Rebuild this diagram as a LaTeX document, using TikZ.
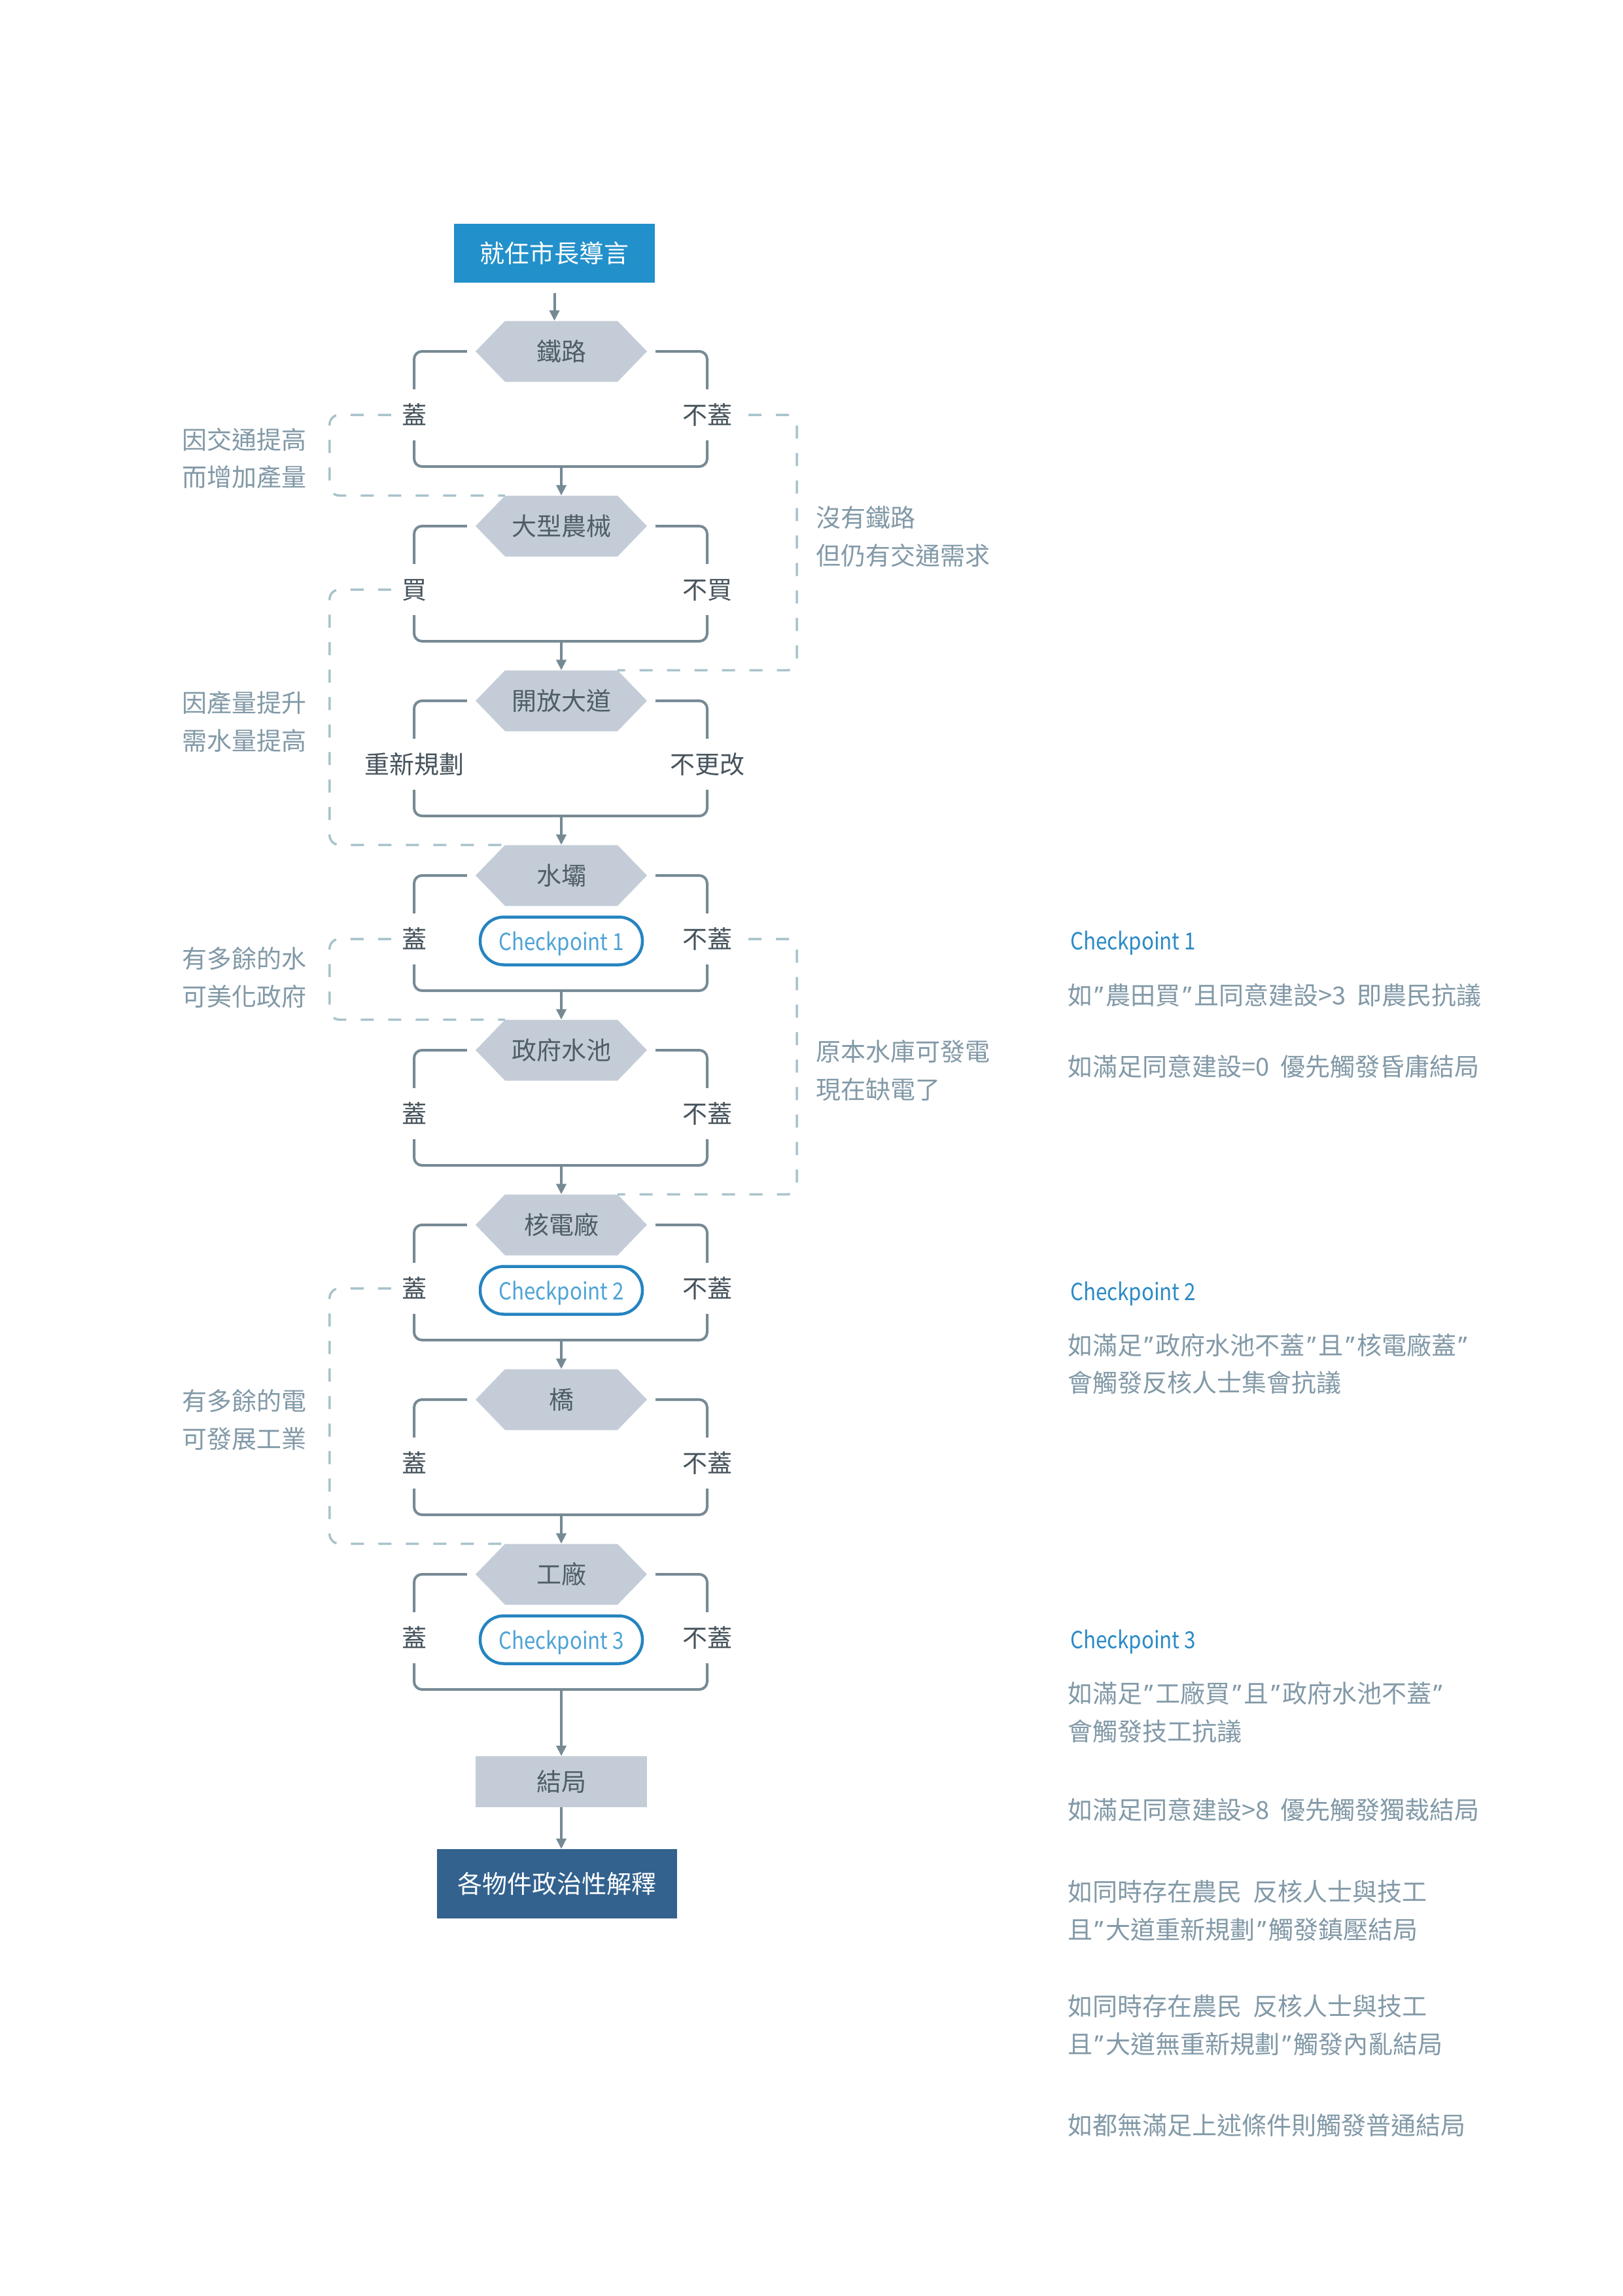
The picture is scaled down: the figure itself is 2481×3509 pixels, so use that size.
\documentclass[tikz,border=0pt]{standalone}
\usepackage{fontspec}
\setmainfont{Noto Sans CJK TC}
\newfontfamily\qfont{Noto Sans}
\newfontfamily\cpfont[FakeStretch=0.87]{Noto Sans CJK TC}
\usetikzlibrary{arrows.meta,calc}
\definecolor{startblue}{HTML}{2290CA}
\definecolor{finalblue}{HTML}{33628F}
\definecolor{hexfill}{HTML}{C4CDD7}
\definecolor{linecol}{HTML}{768A94}
\definecolor{labcol}{HTML}{46535C}
\definecolor{hextext}{HTML}{4F5D67}
\definecolor{notecol}{HTML}{8299A7}
\definecolor{dashcol}{HTML}{A8C3CB}
\definecolor{cpline}{HTML}{2584C0}
\definecolor{cptext}{HTML}{4FA3D6}
\definecolor{cpheadcol}{HTML}{2B8AC6}
\newcommand\myfs{\fontsize{38pt}{46pt}\selectfont}
\newcommand\mycpfs{\cpfont\fontsize{36pt}{44pt}\selectfont}
\newcommand\qq{\kern3.5pt{\qfont ”}\kern3.5pt}
\begin{document}
\begin{tikzpicture}[x=1pt,y=-1pt,
  every node/.style={font=\myfs, inner sep=0pt, text height=29pt, text depth=0pt},
  hexnode/.style={minimum width=262pt, minimum height=93pt, text=hextext,
    path picture={\fill[hexfill] (path picture bounding box.west)
      -- ([xshift=45pt]path picture bounding box.north west)
      -- ([xshift=-45pt]path picture bounding box.north east)
      -- (path picture bounding box.east)
      -- ([xshift=-45pt]path picture bounding box.south east)
      -- ([xshift=45pt]path picture bounding box.south west) -- cycle;}},
  labnode/.style={minimum height=78pt, text=labcol},
  bracket/.style={draw=linecol, line width=4pt, rounded corners=12pt},
  flow/.style={draw=linecol, line width=4pt, -{Triangle[length=16pt,width=15pt]}},
  dashline/.style={draw=dashcol, line width=3.5pt, dash pattern=on 20pt off 22pt, rounded corners=15pt},
  cpnode/.style={draw=cpline, line width=4.5pt, rounded corners=36pt, minimum width=248pt, minimum height=73pt, text=cptext, fill=white, font=\mycpfs},
  note/.style={text=notecol, anchor=west},
  cphead/.style={text=cpheadcol, anchor=west, font=\mycpfs},
  startbox/.style={fill=startblue, text=white, minimum width=307pt, minimum height=90pt},
  endbox/.style={fill=hexfill, text=hextext, minimum width=262pt, minimum height=78pt},
  finalbox/.style={fill=finalblue, text=white, minimum width=367pt, minimum height=106pt}
]
\fill[white] (0,0) rectangle (2481,3509);
\useasboundingbox (0,0) rectangle (2481,3509);

% start
\node[startbox] (start) at (847.5,387) {就任市長導言};

% hexagons
\foreach \k/\y/\t in {1/537/鐵路,2/804/大型農械,3/1071/開放大道,4/1338/水壩,5/1605/政府水池,6/1872/核電廠,7/2139/橋,8/2406/工廠}{
  \node[hexnode] (h\k) at (858,\y) {\t};
}

% labels and brackets
\foreach \k/\y/\a/\b in {1/537/蓋/不蓋,2/804/買/不買,3/1071/重新規劃/不更改,4/1338/蓋/不蓋,5/1605/蓋/不蓋,6/1872/蓋/不蓋,7/2139/蓋/不蓋,8/2406/蓋/不蓋}{
  \node[labnode] (l\k) at (633,{\y+97}) {\a};
  \node[labnode] (r\k) at (1081,{\y+97}) {\b};
  \coordinate (b\k) at (858,{\y+176});
  \draw[bracket] ([xshift=-13pt]h\k.west) -| (l\k.north);
  \draw[bracket] ([xshift=13pt]h\k.east) -| (r\k.north);
  \draw[bracket] (l\k.south) |- (b\k) -| (r\k.south);
}

% checkpoints
\node[cpnode] (cp1) at (858,1438) {Checkpoint 1};
\node[cpnode] (cp2) at (858,1972) {Checkpoint 2};
\node[cpnode] (cp3) at (858,2506) {Checkpoint 3};

% end boxes
\node[endbox] (end) at (858,2723) {結局};
\node[finalbox] (final) at (851.5,2879) {各物件政治性解釋};

% flow arrows
\draw[flow] ([yshift=-16pt]start.south) -- (start.south |- h1.north);
\foreach \k/\n in {1/2,2/3,3/4,4/5,5/6,6/7,7/8}{
  \draw[flow] (b\k) -- (h\n.north);
}
\draw[flow] (b8) -- (end.north);
\draw[flow] (end.south) -- (end.south |- final.north);

% dashed annotations
\draw[dashline] ([xshift=-16pt]l1.west) -| ([xshift=-223pt]h2.north west) -- ([xshift=45pt]h2.north west);
\draw[dashline] ([xshift=25pt]r1.east) -| ([xshift=229pt]h3.north east) -- ([xshift=-45pt]h3.north east);
\draw[dashline] ([xshift=-16pt]l2.west) -| ([xshift=-223pt]h4.north west) -- ([xshift=45pt]h4.north west);
\draw[dashline] ([xshift=-16pt]l4.west) -| ([xshift=-223pt]h5.north west) -- ([xshift=45pt]h5.north west);
\draw[dashline] ([xshift=25pt]r4.east) -| ([xshift=229pt]h6.north east) -- ([xshift=-45pt]h6.north east);
\draw[dashline] ([xshift=-16pt]l6.west) -| ([xshift=-223pt]h8.north west) -- ([xshift=45pt]h8.north west);

% notes left
\node[note] (n1a) at (278,672) {因交通提高};
\node[note] (n1b) at (278,729) {而增加產量};
\node[note] (n2a) at (278,1074) {因產量提升};
\node[note] (n2b) at (278,1132) {需水量提高};
\node[note] (n3a) at (278,1465) {有多餘的水};
\node[note] (n3b) at (278,1523) {可美化政府};
\node[note] (n4a) at (278,2141) {有多餘的電};
\node[note] (n4b) at (278,2199) {可發展工業};
% notes right
\node[note] (m1a) at (1247,791) {沒有鐵路};
\node[note] (m1b) at (1247,849) {但仍有交通需求};
\node[note] (m2a) at (1247,1607) {原本水庫可發電};
\node[note] (m2b) at (1247,1665) {現在缺電了};

% right side conditions
\node[cphead] (c1) at (1636,1437) {Checkpoint 1};
\node[note] (c1a) at (1632,1521) {如\qq 農田買\qq 且同意建設>3\ \ 即農民抗議};
\node[note] (c1b) at (1632,1630) {如滿足同意建設=0\ \ 優先觸發昏庸結局};
\node[cphead] (c2) at (1636,1973) {Checkpoint 2};
\node[note] (c2a) at (1632,2056) {如滿足\qq 政府水池不蓋\qq 且\qq 核電廠蓋\qq};
\node[note] (c2b) at (1632,2113) {會觸發反核人士集會抗議};
\node[cphead] (c3) at (1636,2505) {Checkpoint 3};
\node[note] (c3a) at (1632,2588) {如滿足\qq 工廠買\qq 且\qq 政府水池不蓋\qq};
\node[note] (c3b) at (1632,2646) {會觸發技工抗議};
\node[note] (c3c) at (1632,2766) {如滿足同意建設>8\ \ 優先觸發獨裁結局};
\node[note] (c3d) at (1632,2891) {如同時存在農民\ \ 反核人士與技工};
\node[note] (c3e) at (1632,2949) {且\qq 大道重新規劃\qq 觸發鎮壓結局};
\node[note] (c3f) at (1632,3066) {如同時存在農民\ \ 反核人士與技工};
\node[note] (c3g) at (1632,3124) {且\qq 大道無重新規劃\qq 觸發內亂結局};
\node[note] (c3h) at (1632,3248) {如都無滿足上述條件則觸發普通結局};
\end{tikzpicture}
\end{document}
